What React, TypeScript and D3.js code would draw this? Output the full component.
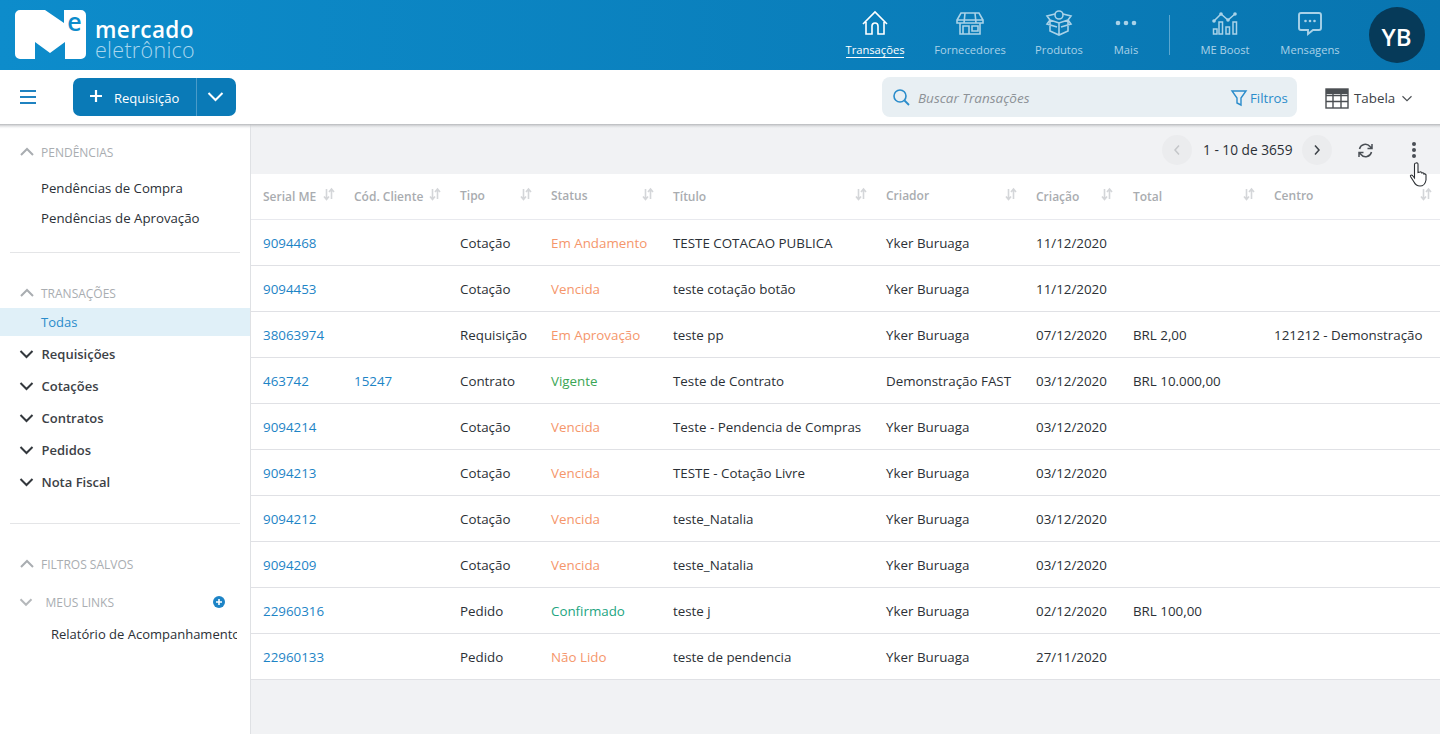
import React, { useEffect } from "react";
import * as d3 from "d3";

const serials = ["9094468","9094453","38063974","463742","9094214","9094213","9094212","9094209","22960316","22960133"];
const codes = ["","","","15247","","","","","",""];
const tipos = ["Cotação","Cotação","Requisição","Contrato","Cotação","Cotação","Cotação","Cotação","Pedido","Pedido"];
const statuses = ["Em Andamento","Vencida","Em Aprovação","Vigente","Vencida","Vencida","Vencida","Vencida","Confirmado","Não Lido"];
const titulos = ["TESTE COTACAO PUBLICA","teste cotação botão","teste pp","Teste de Contrato","Teste - Pendencia de Compras","TESTE - Cotação Livre","teste_Natalia","teste_Natalia","teste j","teste de pendencia"];
const criadores = ["Yker Buruaga","Yker Buruaga","Yker Buruaga","Demonstração FAST","Yker Buruaga","Yker Buruaga","Yker Buruaga","Yker Buruaga","Yker Buruaga","Yker Buruaga"];
const criacoes = ["11/12/2020","11/12/2020","07/12/2020","03/12/2020","03/12/2020","03/12/2020","03/12/2020","03/12/2020","02/12/2020","27/11/2020"];
const totais = ["","","BRL 2,00","BRL 10.000,00","","","","","BRL 100,00",""];
const centros = ["","","121212 - Demonstração","","","","","","",""];
const columns = ["Serial ME","Cód. Cliente","Tipo","Status","Título","Criador","Criação","Total","Centro"];
const navItems = ["Transações","Fornecedores","Produtos","Mais","ME Boost","Mensagens"];
const groups = ["Requisições","Cotações","Contratos","Pedidos","Nota Fiscal"];

const colX = d3.scaleOrdinal<string, number>().domain(columns).range([263,354,460,551,673,886,1036,1133,1274]);
const sortX = d3.scaleOrdinal<string, number>().domain(columns).range([329,435,526,648,861,1011,1107,1249,1426]);
const headY = d3.scaleOrdinal<string, number>().domain(columns).range([196.5,196.5,195.5,195.5,196.5,195.5,196.5,196.5,195.5]);
const navX = d3.scaleOrdinal<string, number>().domain(navItems).range([875,970,1059,1126,1225,1310]);
const rowY = d3.scaleBand<number>().domain(d3.range(serials.length)).range([220,680]);
const groupY = d3.scalePoint<string>().domain(groups).range([354,482]);

const F = "'Open Sans', sans-serif";
const statusColor: Record<string,string> = {
  "Em Andamento":"#f5966b","Vencida":"#f5966b","Em Aprovação":"#f5966b","Não Lido":"#f5966b",
  "Vigente":"#3aa655","Confirmado":"#22a57f",
};
const ink = "#2b3036";
const gray = "#a9adb1";

function T({x,y,s=13.35,c=ink,w=400,a="start",i,children}:any){
  return <text x={x} y={y} fontSize={s} fill={c} fontWeight={w} textAnchor={a} fontStyle={i?"italic":"normal"} fontFamily={F} dominantBaseline="central">{children}</text>;
}
function Chev({x,y,up,c=ink,w=2,r=5.5}:any){
  const d = up ? `M${x-r} ${y+r/2}L${x} ${y-r/2}L${x+r} ${y+r/2}` : `M${x-r} ${y-r/2}L${x} ${y+r/2}L${x+r} ${y-r/2}`;
  return <path d={d} fill="none" stroke={c} strokeWidth={w}/>;
}
function Sort({x,y}:{x:number,y:number}){
  return <g stroke="#d4d6d9" strokeWidth={1.6} fill="none">
    <path d={`M${x-2.5} ${y-6}V${y+4}M${x-5} ${y+1.5}L${x-2.5} ${y+4.5}L${x} ${y+1.5}`}/>
    <path d={`M${x+2.5} ${y+4}V${y-6}M${x} ${y-3}L${x+2.5} ${y-6}L${x+5} ${y-3}`}/>
  </g>;
}
function NavIcon({name,x}:{name:string,x:number}){
  const light = "#a9d2e8";
  const st = {fill:"none",stroke:name==="Transações"?"#ffffff":light,strokeWidth:1.6};
  const t = `translate(${x},23)`;
  if(name==="Transações") return <g transform={t} {...st}><path d="M-12 1L0 -11L12 1M-9 -1V11H-3V3A3 3 0 0 1 3 3V11H9V-1"/></g>;
  if(name==="Fornecedores") return <g transform={t} {...st}>
    <path d="M-9 -10H9L13 -3V0H-13V-3ZM-13 -3H13M-5 -10L-6 0M5 -10L6 0"/>
    <path d="M-10 0V11H10V0M-7 11V3H-1V11M2 3H8V8H2Z"/>
  </g>;
  if(name==="Produtos") return <g transform={t} {...st}><path d="M-9 -3V8L0 12L9 8V-3M0 0V12M-9 -3L0 0L9 -3M-9 -3L-12 -7L-4 -9M9 -3L12 -7L4 -9M-9 -3L-12 1L-2 4M9 -3L12 1L2 4"/><circle cx={0} cy={-8} r={4}/></g>;
  if(name==="Mais") return <g transform={t} fill={light}>{[-8,0,8].map(d=><circle key={d} cx={d} cy={0} r={2.3}/>)}</g>;
  if(name==="ME Boost") return <g transform={t}>
    <path d="M-11 -2L-4 -9L3 -3L10 -9" fill="none" stroke={light} strokeWidth={1.5}/>
    <g fill={light}><circle cx={-11} cy={-2} r={1.8}/><circle cx={-4} cy={-9} r={1.8}/><circle cx={3} cy={-3} r={1.8}/><circle cx={10} cy={-9} r={1.8}/></g>
    <g fill="none" stroke={light} strokeWidth={1.5}>
      <rect x={-11.5} y={6} width={3.5} height={5}/><rect x={-6} y={-1} width={3.5} height={12}/><rect x={1} y={4} width={3.5} height={7}/><rect x={8} y={-1} width={3.5} height={12}/>
    </g>
  </g>;
  return <g transform={t}><path d="M-9 -10H9A2 2 0 0 1 11 -8V5A2 2 0 0 1 9 7H3L-2 11V7H-9A2 2 0 0 1 -11 5V-8A2 2 0 0 1 -9 -10Z" fill="none" stroke={light} strokeWidth={1.9}/><g fill={light}>{[-4.5,0,4.5].map(d=><circle key={d} cx={d} cy={-2} r={1.3}/>)}</g></g>;
}

export default function App(){
  useEffect(()=>{document.body.style.margin="0";},[]);
  const cells = [serials,codes,tipos,statuses,titulos,criadores,criacoes,totais,centros];
  return (
    <svg width={1440} height={734} viewBox="0 0 1440 734" style={{display:"block",position:"fixed",left:0,top:0,background:"#fff"}}>
      <defs>
        <linearGradient id="hdr" x1="0" x2="1" y1="0" y2="0"><stop offset="0" stopColor="#0d8ccb"/><stop offset="1" stopColor="#0875b0"/></linearGradient>
        <linearGradient id="shadow" x1="0" x2="0" y1="0" y2="1"><stop offset="0" stopColor="#b5b7ba"/><stop offset="1" stopColor="#f1f2f4" stopOpacity="0"/></linearGradient>
        <clipPath id="side"><rect x={0} y={620} width={237} height={30}/></clipPath>
      </defs>

      {/* content area */}
      <rect x={251} y={124} width={1189} height={610} fill="#f1f2f4"/>
      <rect x={250} y={124} width={1} height={610} fill="#dfe1e4"/>
      <rect x={251} y={174} width={1189} height={506} fill="#fff"/>
      {columns.map(c=><g key={c}>
        <T x={colX(c)} y={headY(c)} s={12} w={600} c="#a9acb0">{c}</T>
        <Sort x={sortX(c)} y={195}/>
      </g>)}
      <rect x={251} y={219} width={1189} height={1} fill="#e8e9ee"/>
      {serials.map((_,i)=>{
        const cy = rowY(i)!+rowY.bandwidth()/2-0.5;
        return <g key={i}>
          <rect x={251} y={rowY(i)!+rowY.bandwidth()-1} width={1189} height={1} fill="#e0e1e5"/>
          {columns.map((c,j)=>{
            const v = cells[j][i];
            const col = j<2?"#1d84c6":j===3?statusColor[v]:"#2b3036";
            return v? <T key={c} x={colX(c)} y={cy} c={col}>{v}</T>:null;
          })}
        </g>;
      })}

      {/* pagination */}
      <circle cx={1177} cy={150} r={15} fill="#ebecee"/>
      <path d="M1179 145.5L1175 150L1179 154.5" fill="none" stroke="#c4c6c9" strokeWidth={1.5}/>
      <T x={1203} y={149} s={13.7}>1 - 10 de 3659</T>
      <circle cx={1317} cy={150} r={15} fill="#ebecee"/>
      <path d="M1315 145.5L1319 150L1315 154.5" fill="none" stroke="#3c4248" strokeWidth={1.5}/>
      <g fill="none" stroke="#4a4f55" strokeWidth={1.5}>
        <path d="M1359.5 149A6 6 0 0 1 1370 146.5L1372 148.5M1372 144V148.5H1367.5"/>
        <path d="M1371.5 152A6 6 0 0 1 1361 154.5L1359 152.5M1359 157V152.5H1363.5"/>
      </g>
      <g fill="#4a4f55">{[144,150,156].map(y=><circle key={y} cx={1414} cy={y} r={2}/>)}</g>
      <path d="M1416 163C1417.5 162.5 1418 163.5 1418 164.5V172.5L1420 172C1421 171.5 1422 172.5 1422 173C1423 172.5 1424 173 1424 174C1425 173.5 1426.5 174.5 1426 176V180C1425.5 183.5 1423 186 1420 186C1417 186 1415.5 185 1414 182L1410.5 176.5C1410 175.5 1411.5 174.5 1412.5 175.5L1414.5 178V164.5C1414.5 163.5 1415 163 1416 163Z" fill="#fff" stroke="#2b2f33" strokeWidth={1.1}/>

      {/* sidebar */}
      <Chev x={27} y={152} up c={gray} w={2} r={6}/>
      <T x={41} y={152.5} s={12} c={gray}>PENDÊNCIAS</T>
      <T x={41} y={188} s={13.2}>Pendências de Compra</T>
      <T x={41} y={218} s={13.25}>Pendências de Aprovação</T>
      <rect x={10} y={252} width={230} height={1} fill="#e4e5e7"/>
      <Chev x={27} y={293} up c={gray} w={2} r={6}/>
      <T x={41} y={293.5} s={12} c={gray}>TRANSAÇÕES</T>
      <rect x={0} y={308} width={250} height={28} fill="#e0f0f8"/>
      <T x={41} y={322} s={13} c="#2a8ccb">Todas</T>
      {groups.map(g=><g key={g}>
        <Chev x={26.5} y={groupY(g)} c="#33383d" w={2} r={6}/>
        <T x={41.5} y={groupY(g)} s={13} w={600} c="#3c4146">{g}</T>
      </g>)}
      <rect x={10} y={523} width={230} height={1} fill="#e4e5e7"/>
      <Chev x={27} y={564} up c={gray} w={2} r={6}/>
      <T x={41} y={564.5} s={12} c={gray}>FILTROS SALVOS</T>
      <Chev x={26} y={602} c="#b5b8bb" w={2} r={5.5}/>
      <T x={45.5} y={602.5} s={12} c={gray}>MEUS LINKS</T>
      <circle cx={219} cy={602} r={6} fill="#1d84c6"/>
      <path d="M216 602H222M219 599V605" stroke="#fff" strokeWidth={1.6}/>
      <g clipPath="url(#side)"><T x={51} y={634} s={13}>Relatório de Acompanhamento</T></g>

      {/* toolbar */}
      <rect x={0} y={124} width={1440} height={5} fill="url(#shadow)"/>
      <rect x={0} y={70} width={1440} height={54} fill="#fff"/>
      <path d="M20 91H36M20 97H36M20 103H36" stroke="#1f82c0" strokeWidth={2}/>
      <rect x={73} y={78} width={163} height={38} rx={7} fill="#0a7ab7"/>
      <path d="M96 90V102M90 96H102" stroke="#fff" strokeWidth={2.2}/>
      <T x={114} y={97.5} s={13} c="#fff">Requisição</T>
      <rect x={196} y={78} width={1} height={38} fill="#4a9bc9"/>
      <Chev x={215.5} y={96.5} c="#fff" w={2} r={7}/>
      <rect x={882} y={77} width={415} height={40} rx={8} fill="#e8eff3"/>
      <circle cx={900} cy={96} r={6} fill="none" stroke="#2a8ccb" strokeWidth={1.6}/>
      <path d="M904.5 100.5L909 105" stroke="#2a8ccb" strokeWidth={1.8}/>
      <T x={918} y={98} i c="#8d9297" s={13.5}>Buscar Transações</T>
      <path d="M1232 91H1246L1241 98V105L1237 103V98Z" fill="none" stroke="#2a8ccb" strokeWidth={1.4}/>
      <T x={1250} y={98} s={13.2} c="#2a8ccb">Filtros</T>
      <g fill="none" stroke="#4b4f53" strokeWidth={1.4}>
        <rect x={1326} y={89} width={22} height={19}/>
        <path d="M1326 95.5H1348M1326 101.5H1348M1333 89V108M1341 89V108"/>
      </g>
      <rect x={1326} y={89} width={22} height={5} fill="#4b4f53"/>
      <T x={1354} y={98} c="#3c4146">Tabela</T>
      <Chev x={1407} y={98.5} c="#4b4f53" w={1.1} r={4.5}/>

      {/* top bar */}
      <rect x={0} y={0} width={1440} height={70} fill="url(#hdr)"/>
      <path d="M20 10H45L64 23V10H81A5 5 0 0 1 86 15V54A5 5 0 0 1 81 59H65V42L50 53L35 42V59H20A5 5 0 0 1 15 54V15A5 5 0 0 1 20 10Z" fill="#fff"/>
      <text x={74.5} y={30.5} fontSize={25} fontWeight={600} fill="#0d8ccb" textAnchor="middle" fontFamily={F}>e</text>
      <text x={95} y={38} fontSize={22.5} fontWeight={600} fill="#fff" fontFamily={F} letterSpacing={0.4}>mercado</text>
      <text x={95} y={58} fontSize={21.5} fontWeight={300} fill="#a9d6ee" fontFamily={F} letterSpacing={0.3}>eletrônico</text>
      {navItems.map(n=><g key={n}>
        <NavIcon name={n} x={navX(n)}/>
        <T x={navX(n)} y={49.5} s={11.2} a="middle" c={n==="Transações"?"#fff":"#a9d2e8"}>{n}</T>
      </g>)}
      <rect x={846} y={57} width={58} height={1} fill="#fff"/>
      <rect x={1169} y={15} width={1} height={40} fill="#5ba7d0"/>
      <circle cx={1397} cy={35} r={28} fill="#063a59"/>
      <T x={1396.5} y={36} s={24} w={600} a="middle" c="#fff">YB</T>
    </svg>
  );
}
